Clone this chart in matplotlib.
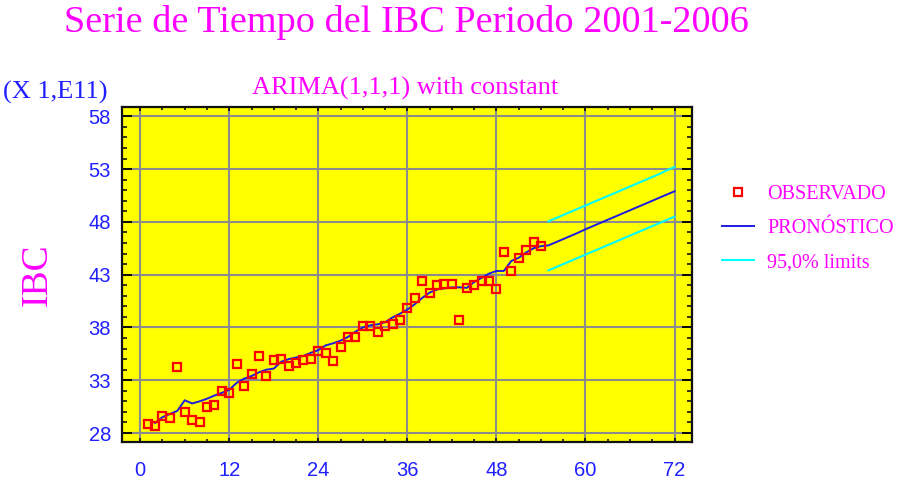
import matplotlib
matplotlib.use("Agg")
import matplotlib.pyplot as plt
from matplotlib.ticker import MultipleLocator, FixedLocator
from matplotlib.lines import Line2D

# ---- data ----
obs_t = list(range(1, 55))
obs_v = [28.85, 28.62, 29.60, 29.40, 34.30, 29.96, 29.20, 29.04, 30.48, 30.70,
         32.00, 31.80, 34.50, 32.47, 33.60, 35.26, 33.40, 34.88, 35.05, 34.33,
         34.67, 34.88, 35.03, 35.78, 35.60, 34.86, 36.14, 37.06, 37.06, 38.17,
         38.17, 37.60, 38.17, 38.36, 38.70, 39.84, 40.76, 42.39, 41.26, 41.99,
         42.15, 42.15, 38.70, 41.77, 41.99, 42.39, 42.39, 41.60, 45.10, 43.30,
         44.57, 45.30, 46.06, 45.68]

fit_t = list(range(2, 73))
fit_v = [28.95, 29.50, 29.80, 30.10, 31.10, 30.80, 31.00, 31.25, 31.55, 31.80,
         32.10, 32.75, 33.15, 33.40, 33.75, 34.00, 34.10, 34.75, 35.00, 35.15,
         35.30, 35.60, 35.85, 36.30, 36.50, 36.75, 37.10, 37.60, 38.00, 38.20,
         38.30, 38.50, 38.95, 39.30, 39.70, 40.20, 40.80, 41.30, 41.60, 41.70,
         41.80, 41.80, 41.75, 42.30, 42.70, 43.10, 43.35, 43.35, 44.30, 44.60,
         45.10, 45.50, 45.70,
         45.77, 46.07, 46.37, 46.67, 46.97, 47.30, 47.60, 47.90, 48.20, 48.50,
         48.80, 49.10, 49.40, 49.70, 50.00, 50.30, 50.60, 50.90]

lim_t = list(range(55, 73))
upper_v = [48.05, 48.35, 48.65, 48.95, 49.25, 49.55, 49.85, 50.15, 50.45, 50.75,
           51.05, 51.35, 51.65, 51.95, 52.25, 52.55, 52.90, 53.20]
lower_v = [43.40, 43.70, 44.00, 44.30, 44.60, 44.90, 45.20, 45.50, 45.80, 46.10,
           46.40, 46.70, 47.00, 47.30, 47.60, 47.90, 48.20, 48.50]

x_ticks = [0, 12, 24, 36, 48, 60, 72]
y_ticks = [28, 33, 38, 43, 48, 53, 58]

title = "Serie de Tiempo del IBC Periodo 2001-2006"
subtitle = "ARIMA(1,1,1) with constant"
legend_labels = ["OBSERVADO", "PRONÓSTICO", "95,0% limits"]

MAG = "#FF00FF"
BLUE_TXT = "#1F1FFF"
SERIF = ["Liberation Serif", "DejaVu Serif"]
SANS = ["Liberation Sans", "DejaVu Sans"]

fig = plt.figure(figsize=(9.04, 4.83), dpi=100)
fig.patch.set_facecolor("white")
ax = fig.add_axes([122/904, 41/483, 570/904, 335/483])
ax.set_facecolor("#FFFF00")

ax.plot(lim_t, upper_v, color="#00FFFF", lw=1.5, zorder=3)
ax.plot(lim_t, lower_v, color="#00FFFF", lw=1.5, zorder=3)
ax.plot(fit_t, fit_v, color="#1C1CE0", lw=1.4, zorder=4)
ax.plot(obs_t, obs_v, linestyle="none", marker="s", markersize=5.2,
        markerfacecolor="none", markeredgecolor="#FF0000", markeredgewidth=1.6,
        zorder=5)

ax.set_xlim(-2.45, 74.35)
ax.set_ylim(27.15, 58.88)
ax.xaxis.set_major_locator(FixedLocator(x_ticks))
ax.xaxis.set_minor_locator(MultipleLocator(3))
ax.yaxis.set_major_locator(FixedLocator(y_ticks))
ax.yaxis.set_minor_locator(MultipleLocator(1))
ax.grid(True, which="major", color="#8C8C8C", lw=1.5, zorder=1)
ax.set_axisbelow(True)

for s in ax.spines.values():
    s.set_color("#111111")
    s.set_linewidth(1.6)

ax.tick_params(axis="y", which="major", direction="in", length=7, width=1.3,
               left=True, right=True, pad=8, labelsize=14.5, labelcolor=BLUE_TXT)
ax.tick_params(axis="y", which="minor", direction="in", length=3.5, width=1.1,
               left=True, right=True)
ax.tick_params(axis="x", which="major", direction="in", length=3, width=1.1,
               bottom=True, top=True, pad=14, labelsize=14.5, labelcolor=BLUE_TXT)
ax.tick_params(axis="x", which="minor", direction="in", length=2.5, width=1.1,
               bottom=True, top=True)
for lab in ax.get_xticklabels() + ax.get_yticklabels():
    lab.set_family(SANS)

fig.text(406/904, 1 - 23/483, title, color=MAG, fontsize=27.5, family=SERIF,
         ha="center", va="center")
fig.text(405/904, 1 - 88/483, subtitle, color=MAG, fontsize=19, family=SERIF,
         ha="center", va="center")
fig.text(3/904, 1 - 92/483, "(X 1,E11)", color=BLUE_TXT, fontsize=19,
         family=SERIF, ha="left", va="center")
fig.text(37/904, 1 - 275/483, "IBC", color=MAG, fontsize=27, family=SERIF,
         rotation=90, ha="center", va="center")

handles = [
    Line2D([], [], linestyle="none", marker="s", markersize=5.2,
           markerfacecolor="none", markeredgecolor="#FF0000", markeredgewidth=1.6),
    Line2D([], [], color="#1C1CE0", lw=1.4),
    Line2D([], [], color="#00FFFF", lw=1.5),
]
leg = fig.legend(handles, legend_labels, loc="upper left",
                 bbox_to_anchor=(722/904, 1 - 185/483), frameon=False,
                 prop={"family": SERIF, "size": 14.5}, labelcolor=MAG,
                 handlelength=1.6, handletextpad=0.65, labelspacing=0.75,
                 borderpad=0, borderaxespad=0)

fig.savefig("out.png", dpi=100, facecolor="white")
